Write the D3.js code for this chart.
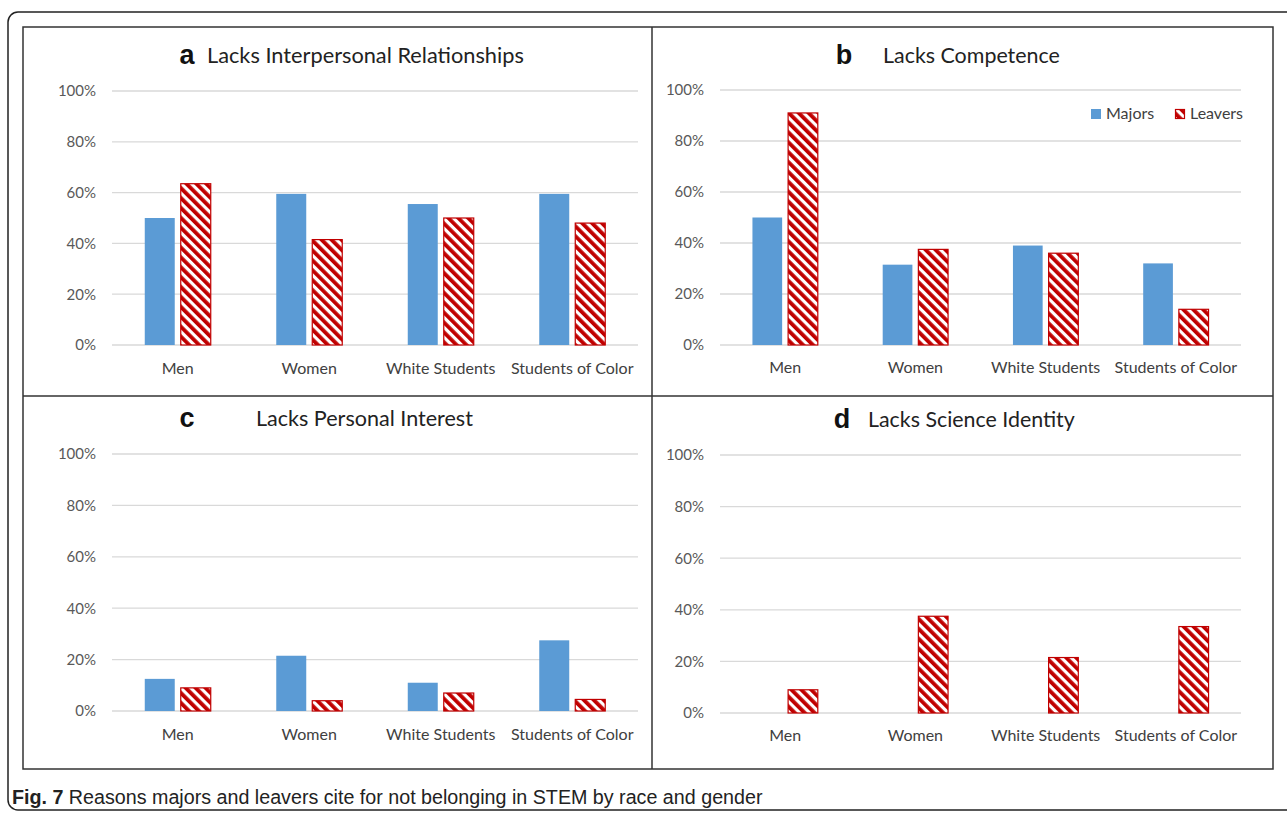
<!DOCTYPE html>
<html><head><meta charset="utf-8">
<script src="https://cdn.jsdelivr.net/npm/d3@7"></script>
<style>html,body{margin:0;padding:0;background:#fff;}svg{display:block;}</style>
</head><body>
<svg id="chart" width="1287" height="814"></svg>
<script>
// ---------------- data ----------------
const categories = ["Men", "Women", "White Students", "Students of Color"];
const seriesNames = ["Majors", "Leavers"];
const yTicks = [0, 0.2, 0.4, 0.6, 0.8, 1.0];
const panelLetters = ["a", "b", "c", "d"];
const panelTitles = ["Lacks Interpersonal Relationships", "Lacks Competence", "Lacks Personal Interest", "Lacks Science Identity"];
const majorsA = [0.50, 0.595, 0.555, 0.595];
const leaversA = [0.635, 0.415, 0.50, 0.48];
const majorsB = [0.50, 0.315, 0.39, 0.32];
const leaversB = [0.91, 0.375, 0.36, 0.14];
const majorsC = [0.125, 0.215, 0.11, 0.275];
const leaversC = [0.09, 0.04, 0.07, 0.045];
const majorsD = [null, null, null, null];
const leaversD = [0.09, 0.375, 0.215, 0.335];
const caption = ["Fig. 7", " Reasons majors and leavers cite for not belonging in STEM by race and gender"];

// ---------------- layout ----------------
const panels = [
  {majors: majorsA, leavers: leaversA, x0: 112, x1: 638, yTop: 91, yBot: 345, letterX: 187, titleX: 207, titleW: 317, titleY: 64, catY: 374, legend: false},
  {majors: majorsB, leavers: leaversB, x0: 720, x1: 1241, yTop: 90, yBot: 345, letterX: 844, titleX: 883, titleW: 177, titleY: 64, catY: 373, legend: true},
  {majors: majorsC, leavers: leaversC, x0: 112, x1: 638, yTop: 454, yBot: 711, letterX: 187, titleX: 256, titleW: 217, titleY: 427, catY: 740, legend: false},
  {majors: majorsD, leavers: leaversD, x0: 720, x1: 1241, yTop: 455, yBot: 713, letterX: 842, titleX: 868, titleW: 207, titleY: 428, catY: 741, legend: false}
];

const BLUE = "#5b9bd5", RED = "#c00000";
const FONT = "Lato, 'Open Sans', sans-serif";
const svg = d3.select("#chart");

const defs = svg.append("defs");
const pat = defs.append("pattern").attr("id", "hatch").attr("patternUnits", "userSpaceOnUse")
  .attr("width", 7).attr("height", 7).attr("patternTransform", "rotate(-45)");
pat.append("rect").attr("width", 7).attr("height", 7).attr("fill", "#fff");
pat.append("rect").attr("x", 0).attr("y", 0).attr("width", 3.8).attr("height", 7).attr("fill", RED);

// outer frame
svg.append("rect").attr("x", 8).attr("y", 12).attr("width", 1300).attr("height", 798)
  .attr("rx", 10).attr("fill", "none").attr("stroke", "#222").attr("stroke-width", 1.5);
// inner box
svg.append("rect").attr("x", 23).attr("y", 27).attr("width", 1250).attr("height", 742)
  .attr("fill", "none").attr("stroke", "#333").attr("stroke-width", 1.5);
svg.append("line").attr("x1", 652).attr("x2", 652).attr("y1", 27).attr("y2", 769).attr("stroke", "#333").attr("stroke-width", 1.5);
svg.append("line").attr("x1", 23).attr("x2", 1273).attr("y1", 396).attr("y2", 396).attr("stroke", "#333").attr("stroke-width", 1.5);

function fitText(sel, w) {
  const n = sel.node();
  const cur = n.getComputedTextLength();
  const fs = parseFloat(sel.attr("font-size"));
  sel.attr("font-size", fs * w / cur);
}

panels.forEach((p, i) => {
  const g = svg.append("g");
  const y = d3.scaleLinear().domain([0, 1]).range([p.yBot, p.yTop]);
  const x = d3.scaleBand().domain(categories).range([p.x0, p.x1]);
  const xs = d3.scaleBand().domain(seriesNames).range([0, x.bandwidth()]).paddingInner(0.167).paddingOuter(0.91);

  // gridlines
  g.selectAll("line.grid").data(yTicks).join("line")
    .attr("x1", p.x0).attr("x2", p.x1).attr("y1", d => y(d)).attr("y2", d => y(d))
    .attr("stroke", "#d9d9d9").attr("stroke-width", 1.3);

  // y axis labels via d3 axis
  const ax = g.append("g").attr("transform", `translate(${p.x0 - 16},0)`)
    .call(d3.axisLeft(y).tickValues(yTicks).tickFormat(d3.format(".0%")).tickSize(0).tickPadding(0));
  ax.select(".domain").remove();
  ax.selectAll("text").attr("font-family", FONT).attr("font-size", 15).attr("fill", "#595959");

  // bars
  const rows = [];
  categories.forEach((c, k) => {
    rows.push({c, s: "Majors", v: p.majors[k]});
    rows.push({c, s: "Leavers", v: p.leavers[k]});
  });
  g.selectAll("rect.bar").data(rows.filter(r => r.v != null)).join("rect")
    .attr("x", d => x(d.c) + xs(d.s)).attr("width", xs.bandwidth())
    .attr("y", d => y(d.v)).attr("height", d => y(0) - y(d.v))
    .attr("fill", d => d.s === "Majors" ? BLUE : "url(#hatch)")
    .attr("stroke", d => d.s === "Majors" ? "none" : RED).attr("stroke-width", 1.2);

  // category labels
  g.selectAll("text.cat").data(categories).join("text")
    .attr("x", d => x(d) + x.bandwidth() / 2).attr("y", p.catY).attr("text-anchor", "middle")
    .attr("font-family", FONT).attr("font-size", 16).attr("fill", "#404040")
    .text(d => d);

  // title
  g.append("text").attr("x", p.letterX).attr("y", p.titleY).attr("text-anchor", "middle")
    .attr("font-family", "'Liberation Sans', Arial, sans-serif").attr("font-weight", "bold").attr("font-size", 27).attr("fill", "#111")
    .text(panelLetters[i]);
  const t = g.append("text").attr("x", p.titleX).attr("y", p.titleY - 1)
    .attr("font-family", FONT).attr("font-size", 20).attr("fill", "#222")
    .text(panelTitles[i]);
  fitText(t, p.titleW);

  if (p.legend) {
    const lg = g.append("g");
    lg.append("rect").attr("x", 1091).attr("y", 109).attr("width", 10).attr("height", 10).attr("fill", BLUE);
    lg.append("text").attr("x", 1106).attr("y", 119).attr("font-family", FONT).attr("font-size", 16).attr("fill", "#404040").text(seriesNames[0]);
    lg.append("rect").attr("x", 1175.5).attr("y", 109.5).attr("width", 9).attr("height", 9).attr("fill", "url(#hatch)").attr("stroke", RED).attr("stroke-width", 1.2);
    lg.append("text").attr("x", 1190).attr("y", 119).attr("font-family", FONT).attr("font-size", 16).attr("fill", "#404040").text(seriesNames[1]);
  }
});

// caption (condensed look via horizontal scale)
const capG = svg.append("g");
const cap = capG.append("text").attr("x", 0).attr("y", 0)
  .attr("font-family", "'Liberation Sans', Arial, sans-serif").attr("font-size", 21).attr("fill", "#222");
cap.append("tspan").attr("font-weight", "bold").text(caption[0]);
cap.append("tspan").text(caption[1]);
const cw = cap.node().getComputedTextLength();
capG.attr("transform", `translate(12,804) scale(${751 / cw},1)`);
</script>
</body></html>
